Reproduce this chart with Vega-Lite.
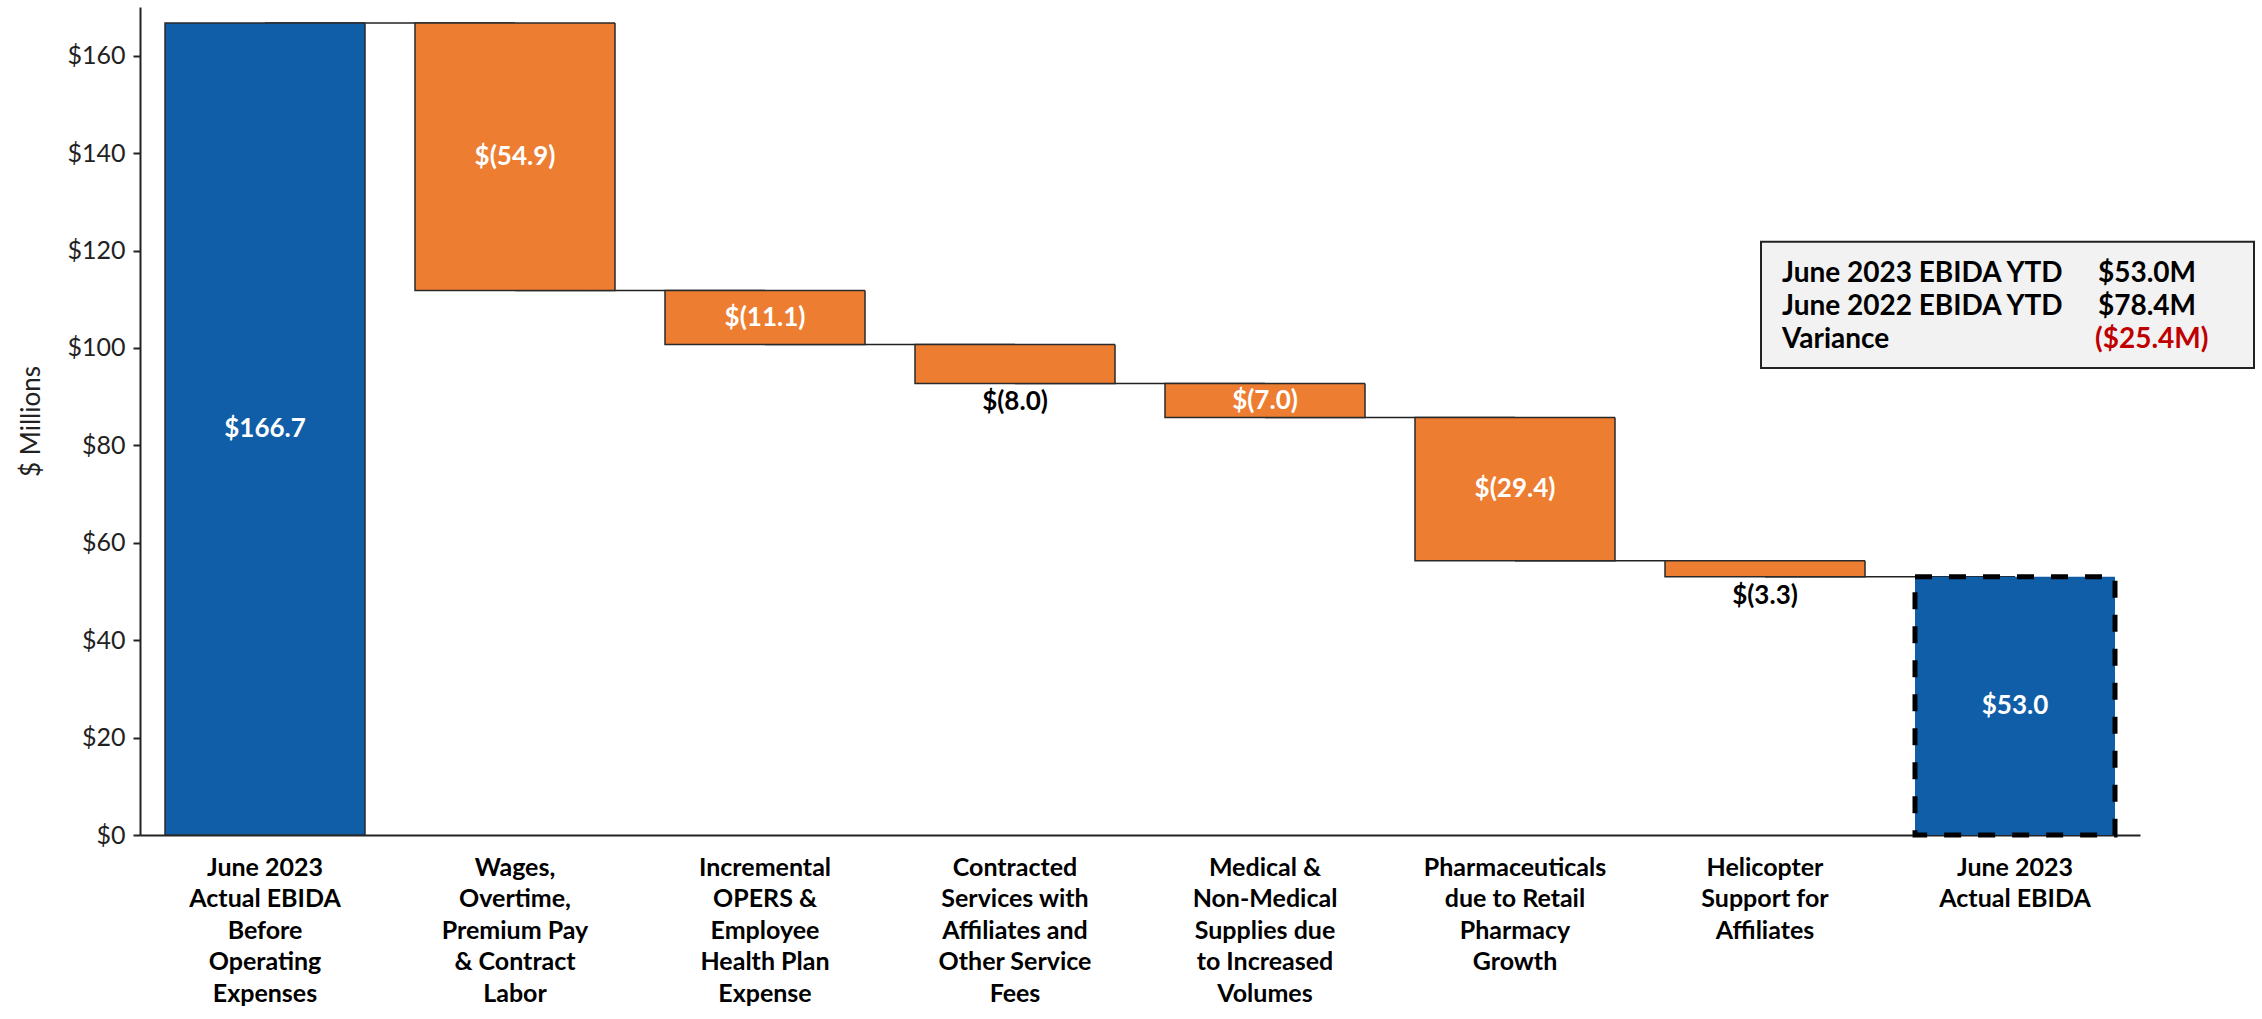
{
  "$schema": "https://vega.github.io/schema/vega-lite/v6.json",
  "width": 2000,
  "height": 828,
  "autosize": {"type": "none"},
  "padding": {"left": 140, "top": 7, "right": 122, "bottom": 184},
  "background": "white",
  "config": {"view": {"stroke": null}, "font": "Lato"},
  "datasets": {
    "steps": [
      {"cat": "June 2023|Actual EBIDA|Before|Operating|Expenses", "start": 0, "end": 166.7, "label": "$166.7", "kind": "total"},
      {"cat": "Wages,|Overtime,|Premium Pay|& Contract|Labor", "start": 166.7, "end": 111.8, "label": "$(54.9)", "kind": "change"},
      {"cat": "Incremental|OPERS &|Employee|Health Plan|Expense", "start": 111.8, "end": 100.7, "label": "$(11.1)", "kind": "change"},
      {"cat": "Contracted|Services with|Affiliates and|Other Service|Fees", "start": 100.7, "end": 92.7, "label": "$(8.0)", "kind": "change"},
      {"cat": "Medical &|Non-Medical|Supplies due|to Increased|Volumes", "start": 92.7, "end": 85.7, "label": "$(7.0)", "kind": "change"},
      {"cat": "Pharmaceuticals|due to Retail|Pharmacy|Growth", "start": 85.7, "end": 56.3, "label": "$(29.4)", "kind": "change"},
      {"cat": "Helicopter|Support for|Affiliates", "start": 56.3, "end": 53.0, "label": "$(3.3)", "kind": "change"},
      {"cat": "June 2023|Actual EBIDA", "start": 0, "end": 53.0, "label": "$53.0", "kind": "total"}
    ],
    "links": [
      {"from": "June 2023|Actual EBIDA|Before|Operating|Expenses", "to": "Wages,|Overtime,|Premium Pay|& Contract|Labor", "level": 166.7},
      {"from": "Wages,|Overtime,|Premium Pay|& Contract|Labor", "to": "Incremental|OPERS &|Employee|Health Plan|Expense", "level": 111.8},
      {"from": "Incremental|OPERS &|Employee|Health Plan|Expense", "to": "Contracted|Services with|Affiliates and|Other Service|Fees", "level": 100.7},
      {"from": "Contracted|Services with|Affiliates and|Other Service|Fees", "to": "Medical &|Non-Medical|Supplies due|to Increased|Volumes", "level": 92.7},
      {"from": "Medical &|Non-Medical|Supplies due|to Increased|Volumes", "to": "Pharmaceuticals|due to Retail|Pharmacy|Growth", "level": 85.7},
      {"from": "Pharmaceuticals|due to Retail|Pharmacy|Growth", "to": "Helicopter|Support for|Affiliates", "level": 56.3},
      {"from": "Helicopter|Support for|Affiliates", "to": "June 2023|Actual EBIDA", "level": 53.0}
    ],
    "note": [{"item": "box"}]
  },
  "resolve": {"scale": {"x": "independent", "y": "independent"}},
  "layer": [
    {
      "layer": [
        {
          "data": {"name": "links"},
          "mark": {"type": "rule", "color": "#222222", "strokeWidth": 1.5},
          "encoding": {
            "x": {"field": "from", "type": "nominal", "title": null, "sort": null,
              "scale": {"domain": ["June 2023|Actual EBIDA|Before|Operating|Expenses", "Wages,|Overtime,|Premium Pay|& Contract|Labor", "Incremental|OPERS &|Employee|Health Plan|Expense", "Contracted|Services with|Affiliates and|Other Service|Fees", "Medical &|Non-Medical|Supplies due|to Increased|Volumes", "Pharmaceuticals|due to Retail|Pharmacy|Growth", "Helicopter|Support for|Affiliates", "June 2023|Actual EBIDA"], "paddingInner": 0.2, "paddingOuter": 0.1}},
            "x2": {"field": "to"},
            "y": {"field": "level", "type": "quantitative", "title": "$ Millions"}
          }
        },
        {
          "data": {"name": "steps"},
          "mark": {"type": "bar"},
          "encoding": {
            "x": {"field": "cat", "type": "nominal", "title": null, "sort": null,
              "axis": {"labelExpr": "split(datum.value, '|')", "labelAngle": 0, "labelAlign": "center", "labelFontSize": 25, "labelFontWeight": "bold", "labelColor": "black", "labelLineHeight": 31.5, "labelPadding": 32, "labelLimit": 0, "ticks": false, "domainColor": "#222222", "domainWidth": 2}},
            "y": {"field": "start", "type": "quantitative", "title": "$ Millions",
              "scale": {"domain": [0, 170], "nice": false, "zero": true},
              "axis": {"values": [0, 20, 40, 60, 80, 100, 120, 140, 160], "labelExpr": "'$' + datum.value", "grid": false, "tickSize": 7, "tickWidth": 2, "tickColor": "#222222", "domainColor": "#222222", "domainWidth": 2, "labelFontSize": 25, "labelColor": "#222222", "labelPadding": 8, "titleFontSize": 26, "titleFontWeight": "normal", "titleColor": "#222222", "titlePadding": 22}},
            "y2": {"field": "end"},
            "color": {"field": "kind", "type": "nominal", "legend": null,
              "scale": {"domain": ["total", "change"], "range": ["#115EA8", "#ED7D31"]}},
            "stroke": {"condition": {"test": "datum.cat == 'June 2023|Actual EBIDA'", "value": "#000000"}, "value": "#2a2a2a"},
            "strokeWidth": {"condition": {"test": "datum.cat == 'June 2023|Actual EBIDA'", "value": 5}, "value": 1.5},
            "strokeDash": {"condition": {"test": "datum.cat == 'June 2023|Actual EBIDA'", "value": [17, 17]}, "value": [1, 0]}
          }
        },
        {
          "data": {"name": "steps"},
          "transform": [
            {"filter": {"not": {"field": "cat", "oneOf": ["Contracted|Services with|Affiliates and|Other Service|Fees", "Helicopter|Support for|Affiliates"]}}},
            {"fold": ["start", "end"], "as": ["edge", "value"]}
          ],
          "mark": {"type": "text", "color": "white", "fontSize": 26, "fontWeight": "bold", "baseline": "middle", "align": "center"},
          "encoding": {
            "x": {"field": "cat", "type": "nominal", "title": null, "sort": null},
            "y": {"aggregate": "mean", "field": "value", "type": "quantitative", "title": "$ Millions"},
            "text": {"field": "label", "type": "nominal"}
          }
        },
        {
          "data": {"name": "steps"},
          "transform": [
            {"filter": {"field": "cat", "oneOf": ["Contracted|Services with|Affiliates and|Other Service|Fees", "Helicopter|Support for|Affiliates"]}}
          ],
          "mark": {"type": "text", "color": "black", "fontSize": 26, "fontWeight": "bold", "baseline": "top", "align": "center", "dy": 6},
          "encoding": {
            "x": {"field": "cat", "type": "nominal", "title": null, "sort": null},
            "y": {"field": "end", "type": "quantitative", "title": "$ Millions"},
            "text": {"field": "label", "type": "nominal"}
          }
        }
      ]
    },
    {
      "data": {"name": "note"},
      "layer": [
        {
          "mark": {"type": "rect", "fill": "#F2F2F2", "stroke": "#222222", "strokeWidth": 2},
          "encoding": {
            "x": {"datum": 6.484, "type": "quantitative", "scale": {"domain": [0, 8], "nice": false, "zero": false}, "axis": null},
            "x2": {"datum": 8.456},
            "y": {"datum": 121.8, "type": "quantitative", "scale": {"domain": [0, 170], "nice": false}, "axis": null},
            "y2": {"datum": 95.9}
          }
        },
        {
          "mark": {"type": "text", "text": ["June 2023 EBIDA YTD", "June 2022 EBIDA YTD", "Variance"], "fontSize": 28, "fontWeight": "bold", "color": "black", "align": "left", "baseline": "alphabetic", "lineHeight": 33},
          "encoding": {
            "x": {"datum": 6.568, "type": "quantitative"},
            "y": {"datum": 113.6, "type": "quantitative"}
          }
        },
        {
          "mark": {"type": "text", "text": ["$53.0M", "$78.4M"], "fontSize": 28, "fontWeight": "bold", "color": "black", "align": "left", "baseline": "alphabetic", "lineHeight": 33},
          "encoding": {
            "x": {"datum": 7.832, "type": "quantitative"},
            "y": {"datum": 113.6, "type": "quantitative"}
          }
        },
        {
          "mark": {"type": "text", "text": "($25.4M)", "fontSize": 28, "fontWeight": "bold", "color": "#C00000", "align": "left", "baseline": "alphabetic"},
          "encoding": {
            "x": {"datum": 7.82, "type": "quantitative"},
            "y": {"datum": 100.0, "type": "quantitative"}
          }
        }
      ]
    }
  ]
}
